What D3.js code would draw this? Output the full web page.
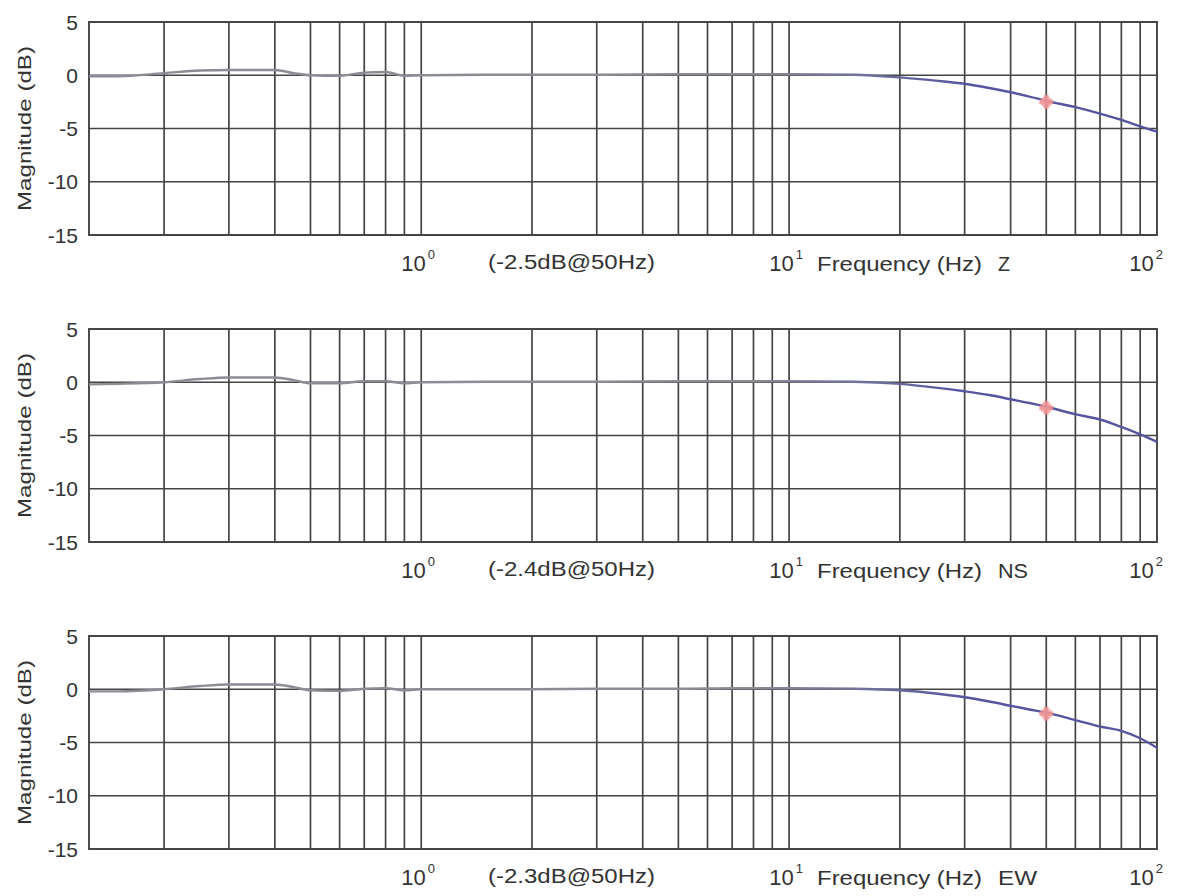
<!DOCTYPE html>
<html>
<head>
<meta charset="utf-8">
<script src="https://cdn.jsdelivr.net/npm/d3@7"></script>
<style>
  body { margin: 0; background: #fff; }
  svg text { font-family: "Liberation Sans", Arial, sans-serif; fill: #333; }
</style>
</head>
<body>
<svg id="chart" width="1185" height="896"></svg>
<script>
// frequency response of the three sensor axes (magnitude in dB)

// frequency points (Hz)
const freqs = [0.125, 0.15, 0.2, 0.25, 0.3, 0.35, 0.4, 0.45, 0.5, 0.6, 0.7, 0.8, 0.9,
    1, 1.5, 2, 3, 5, 7, 10, 15, 20, 25, 30, 35, 40, 45, 50, 60, 70, 80, 90, 100];

// magnitudes
const magZ = [-0.1, -0.1, 0.2, 0.45, 0.5, 0.5, 0.5, 0.2, 0.0, -0.05, 0.25, 0.3, -0.05,
    0.0, 0.05, 0.05, 0.05, 0.1, 0.1, 0.1, 0.05, -0.2, -0.5, -0.8, -1.2, -1.6, -2.0, -2.4,
    -3.0, -3.6, -4.2, -4.8, -5.3];
const magNS = [-0.2, -0.15, 0.0, 0.3, 0.45, 0.45, 0.45, 0.2, -0.1, -0.1, 0.1, 0.1, -0.1,
    0.0, 0.05, 0.05, 0.05, 0.1, 0.1, 0.1, 0.05, -0.15, -0.5, -0.85, -1.2, -1.6, -1.95, -2.3,
    -3.0, -3.5, -4.2, -4.9, -5.6];
const magEW = [-0.2, -0.2, 0.0, 0.3, 0.45, 0.45, 0.45, 0.2, -0.1, -0.15, 0.05, 0.1, -0.1,
    0.0, 0.0, 0.0, 0.05, 0.05, 0.1, 0.1, 0.05, -0.1, -0.4, -0.75, -1.15, -1.55, -1.9, -2.2,
    -2.9, -3.5, -3.9, -4.6, -5.5];

// panel names, 50 Hz marker values and notes
const panelNames = ['Z', 'NS', 'EW'];
const nameWidths = [12, 30, 39];
const markerFreq = 50;
const markerMag = [-2.5, -2.4, -2.3];
const notes = ['(-2.5dB@50Hz)', '(-2.4dB@50Hz)', '(-2.3dB@50Hz)'];

// axis ticks
const yTicks = [5, 0, -5, -10, -15];
const decadeTicks = [1, 10, 100];
const decadeExp = ['0', '1', '2'];

const series = [magZ, magNS, magEW];

const svg = d3.select('#chart');

const left = 89;
const right = 1157;
const panelHeight = 213;
const panelTops = [22, 329, 636];
const gridColor = '#444';

// log frequency axis shared by all panels
const xScale = d3.scaleLog()
    .domain([0.125, 100])
    .range([left, right]);

// minor grid positions: 0.2..0.9, 1..9, 10..90
let gridFreqs = [];
[0.1, 1, 10].forEach(base => {
    for (let k = 1; k <= 9; k++) {
        const f = base * k;
        if (f > 0.125) gridFreqs.push(f);
    }
});

panelTops.forEach((top, i) => {
    const yScale = d3.scaleLinear()
        .domain([-15, 5])
        .range([top + panelHeight, top]);

    const g = svg.append('g').attr('class', 'panel');

    // vertical grid lines
    g.selectAll('.vgrid')
        .data(gridFreqs)
        .enter()
        .append('line')
            .attr('x1', d => xScale(d))
            .attr('x2', d => xScale(d))
            .attr('y1', yScale(5))
            .attr('y2', yScale(-15))
            .attr('stroke', gridColor)
            .attr('stroke-width', 1.7);

    // horizontal grid lines
    g.selectAll('.hgrid')
        .data(yTicks)
        .enter()
        .append('line')
            .attr('x1', left)
            .attr('x2', right)
            .attr('y1', d => yScale(d))
            .attr('y2', d => yScale(d))
            .attr('stroke', gridColor)
            .attr('stroke-width', 1.7);

    // frame
    g.append('rect')
        .attr('x', left)
        .attr('y', top)
        .attr('width', right - left)
        .attr('height', panelHeight)
        .attr('fill', 'none')
        .attr('stroke', gridColor)
        .attr('stroke-width', 1.9);

    // y tick labels
    g.selectAll('.ytick')
        .data(yTicks)
        .enter()
        .append('text')
            .attr('x', 78)
            .attr('y', d => yScale(d))
            .attr('dy', '0.36em')
            .attr('text-anchor', 'end')
            .attr('font-size', '21px')
            .text(d => d);

    // y axis title
    g.append('text')
        .attr('transform', `translate(31, ${top + panelHeight / 2}) rotate(-90)`)
        .attr('text-anchor', 'middle')
        .attr('font-size', '19px')
        .attr('textLength', 165)
        .attr('lengthAdjust', 'spacingAndGlyphs')
        .text('Magnitude (dB)');

    const labelY = top + panelHeight + 36;

    // decade labels 10^n
    decadeTicks.forEach((f, k) => {
        const t = g.append('text')
            .attr('x', xScale(f) - 3 - (k == 2 ? 8 : 0))
            .attr('y', labelY)
            .attr('text-anchor', 'middle')
            .attr('font-size', '22px');
        t.append('tspan').text('10');
        t.append('tspan')
            .attr('dy', -12)
            .attr('dx', 2)
            .attr('font-size', '13px')
            .text(decadeExp[k]);
    });

    // note about the 50 Hz attenuation
    g.append('text')
        .attr('x', 488)
        .attr('y', labelY - 2)
        .attr('font-size', '20px')
        .attr('textLength', 167)
        .attr('lengthAdjust', 'spacingAndGlyphs')
        .text(notes[i]);

    // x axis title and panel name
    g.append('text')
        .attr('x', 817)
        .attr('y', labelY)
        .attr('font-size', '20px')
        .attr('textLength', 165)
        .attr('lengthAdjust', 'spacingAndGlyphs')
        .text('Frequency (Hz)');

    g.append('text')
        .attr('x', 998)
        .attr('y', labelY)
        .attr('font-size', '20px')
        .attr('textLength', nameWidths[i])
        .attr('lengthAdjust', 'spacingAndGlyphs')
        .text(panelNames[i]);

    // gradient: grey at low frequencies, blue towards the roll-off
    const gradId = 'lineGrad' + i;
    const grad = svg.append('defs').append('linearGradient')
        .attr('id', gradId)
        .attr('gradientUnits', 'userSpaceOnUse')
        .attr('x1', xScale(8))
        .attr('x2', xScale(30))
        .attr('y1', 0)
        .attr('y2', 0);
    grad.append('stop').attr('offset', 0).attr('stop-color', '#8c8c94');
    grad.append('stop').attr('offset', 1).attr('stop-color', '#5656a0');

    const line = d3.line()
        .x(d => xScale(d[0]))
        .y(d => yScale(d[1]))
        .curve(d3.curveMonotoneX);

    g.append('path')
        .datum(freqs.map((f, k) => [f, series[i][k]]))
        .attr('fill', 'none')
        .attr('stroke', `url(#${gradId})`)
        .attr('stroke-width', 2.4)
        .attr('d', line);

    // 50 Hz marker
    const mx = xScale(markerFreq);
    const my = yScale(markerMag[i]);
    g.append('circle')
        .attr('cx', mx)
        .attr('cy', my)
        .attr('r', 6)
        .attr('fill', '#f2a0a0')
        .attr('opacity', 0.7);
    g.append('path')
        .attr('transform', `translate(${mx}, ${my})`)
        .attr('d', d3.symbol().type(d3.symbolCross).size(110)())
        .attr('fill', '#ee8f8f')
        .attr('opacity', 0.7);
});
</script>
</body>
</html>
